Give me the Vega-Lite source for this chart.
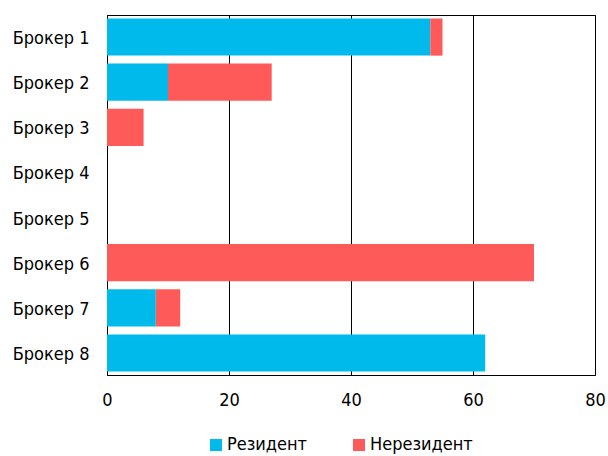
{
  "$schema": "https://vega.github.io/schema/vega-lite/v6.json",
  "width": 488,
  "height": 360,
  "autosize": {"type": "none"},
  "padding": {"left": 107, "top": 15, "right": 13, "bottom": 81},
  "background": "white",
  "config": {
    "font": "'DejaVu Sans Condensed', Roboto, sans-serif",
    "view": {"stroke": "black", "strokeWidth": 1},
    "axis": {"labelFont": "'DejaVu Sans Condensed', Roboto, sans-serif", "labelFontSize": 18, "labelColor": "black"}
  },
  "data": {
    "values": [
      {"broker": "Брокер 1", "type": "Резидент", "ord": 1, "value": 53},
      {"broker": "Брокер 1", "type": "Нерезидент", "ord": 2, "value": 2},
      {"broker": "Брокер 2", "type": "Резидент", "ord": 1, "value": 10},
      {"broker": "Брокер 2", "type": "Нерезидент", "ord": 2, "value": 17},
      {"broker": "Брокер 3", "type": "Нерезидент", "ord": 2, "value": 6},
      {"broker": "Брокер 6", "type": "Нерезидент", "ord": 2, "value": 70},
      {"broker": "Брокер 7", "type": "Резидент", "ord": 1, "value": 8},
      {"broker": "Брокер 7", "type": "Нерезидент", "ord": 2, "value": 4},
      {"broker": "Брокер 8", "type": "Резидент", "ord": 1, "value": 62}
    ]
  },
  "mark": {"type": "bar"},
  "encoding": {
    "y": {
      "field": "broker",
      "type": "nominal",
      "scale": {"domain": ["Брокер 1", "Брокер 2", "Брокер 3", "Брокер 4", "Брокер 5", "Брокер 6", "Брокер 7", "Брокер 8"], "paddingInner": 0.177, "paddingOuter": 0.077},
      "axis": {"title": null, "ticks": false, "domain": true, "domainColor": "black", "labelPadding": 18, "labelOffset": 2, "grid": false}
    },
    "x": {
      "field": "value",
      "type": "quantitative",
      "stack": "zero",
      "scale": {"domain": [0, 80], "nice": false},
      "axis": {"title": null, "values": [0, 20, 40, 60, 80], "ticks": false, "domain": false, "grid": true, "gridColor": "black", "gridOpacity": 1, "labelPadding": 16, "labelFontSize": 18, "labelFlush": false}
    },
    "order": {"field": "ord", "type": "quantitative"},
    "color": {
      "field": "type",
      "type": "nominal",
      "scale": {"domain": ["Резидент", "Нерезидент"], "range": ["#00BAEC", "#FF5A5A"]},
      "legend": {
        "title": null,
        "orient": "none",
        "legendX": 100,
        "legendY": 421,
        "direction": "horizontal",
        "symbolType": "square",
        "symbolSize": 144,
        "symbolStrokeWidth": 0,
        "labelFontSize": 18,
        "labelFont": "'DejaVu Sans Condensed', Roboto, sans-serif",
        "labelColor": "black",
        "columnPadding": 42,
        "labelOffset": 2
      }
    }
  }
}
